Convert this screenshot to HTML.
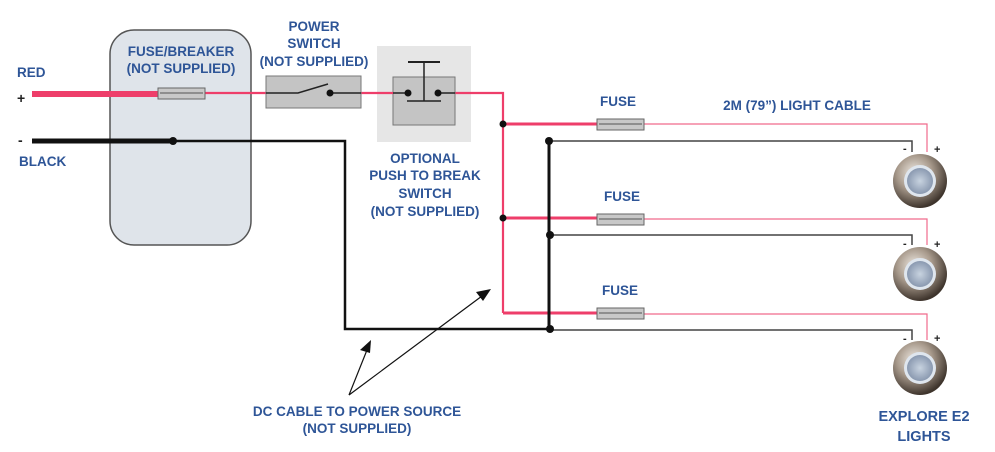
<!DOCTYPE html>
<html><head><meta charset="utf-8"><style>
html,body{margin:0;padding:0;background:#fff;}
svg{display:block}
text{font-family:"Liberation Sans",sans-serif;font-weight:bold;font-size:13.5px;fill:#2e5597;}
</style></head><body>
<svg width="995" height="452" viewBox="0 0 995 452" xmlns="http://www.w3.org/2000/svg">
<defs>
<radialGradient id="ring" cx="40%" cy="35%" r="65%">
<stop offset="0" stop-color="#f0ebe4"/><stop offset="0.5" stop-color="#a89a8c"/><stop offset="1" stop-color="#3e342c"/>
</radialGradient>
<radialGradient id="lens" cx="50%" cy="50%" r="50%">
<stop offset="0" stop-color="#c8d3e0"/><stop offset="1" stop-color="#8a99b0"/>
</radialGradient>
</defs>
<rect x="110" y="30" width="141" height="215" rx="24" fill="#dfe4ea" stroke="#555" stroke-width="1.5"/>
<rect x="377" y="46" width="94" height="96" fill="#e6e6e6"/>
<line x1="32" y1="94" x2="158" y2="94" stroke="#ee3e6a" stroke-width="6"/>
<polyline points="205,93 503,93 503,313" fill="none" stroke="#ee3e6a" stroke-width="2.2"/>
<line x1="503" y1="124" x2="598" y2="124" stroke="#ee3e6a" stroke-width="3"/>
<line x1="503" y1="218" x2="598" y2="218" stroke="#ee3e6a" stroke-width="3"/>
<line x1="503" y1="313" x2="598" y2="313" stroke="#ee3e6a" stroke-width="3"/>
<polyline points="644,124 927,124 927,152" fill="none" stroke="#f06a8c" stroke-width="1.2"/>
<polyline points="644,219 927,219 927,245" fill="none" stroke="#f06a8c" stroke-width="1.2"/>
<polyline points="644,314 927,314 927,340" fill="none" stroke="#f06a8c" stroke-width="1.2"/>
<line x1="32" y1="141" x2="173" y2="141" stroke="#111" stroke-width="5"/>
<polyline points="173,141 345,141 345,329 549,329" fill="none" stroke="#111" stroke-width="2.5"/>
<line x1="549" y1="141" x2="549" y2="329" stroke="#111" stroke-width="3"/>
<polyline points="549,141 912,141 912,152" fill="none" stroke="#444" stroke-width="1.5"/>
<polyline points="549,235 912,235 912,245" fill="none" stroke="#444" stroke-width="1.5"/>
<polyline points="549,330 912,330 912,340" fill="none" stroke="#444" stroke-width="1.5"/>
<circle cx="173" cy="141" r="4" fill="#111"/>
<circle cx="503" cy="124" r="3.5" fill="#111"/>
<circle cx="503" cy="218" r="3.5" fill="#111"/>
<circle cx="549" cy="141" r="4" fill="#111"/>
<circle cx="550" cy="235" r="4" fill="#111"/>
<circle cx="550" cy="329" r="4" fill="#111"/>
<g fill="#c8c8c8" stroke="#666" stroke-width="1">
<rect x="158" y="88" width="47" height="11"/>
<rect x="597" y="119" width="47" height="11"/>
<rect x="597" y="214" width="47" height="11"/>
<rect x="597" y="308" width="47" height="11"/>
</g>
<g stroke="#555" stroke-width="1"><line x1="160" y1="93" x2="203" y2="93"/><line x1="599" y1="124" x2="642" y2="124"/><line x1="599" y1="219" x2="642" y2="219"/><line x1="599" y1="313" x2="642" y2="313"/></g>
<rect x="266" y="76" width="95" height="32" fill="#c4c4c4" stroke="#777"/>
<polyline points="266,93 298,93 328,84" fill="none" stroke="#222" stroke-width="1.5"/>
<line x1="330" y1="93" x2="361" y2="93" stroke="#222" stroke-width="1.5"/>
<circle cx="330" cy="93" r="3.5" fill="#111"/>
<rect x="393" y="77" width="62" height="48" fill="#c4c4c4" stroke="#777"/>
<line x1="377" y1="93" x2="393" y2="93" stroke="#ee3e6a" stroke-width="2"/>
<line x1="393" y1="93" x2="408" y2="93" stroke="#222" stroke-width="1.5"/>
<line x1="438" y1="93" x2="455" y2="93" stroke="#222" stroke-width="1.5"/>
<circle cx="408" cy="93" r="3.5" fill="#111"/><circle cx="438" cy="93" r="3.5" fill="#111"/>
<line x1="408" y1="62" x2="440" y2="62" stroke="#222" stroke-width="2"/>
<line x1="424" y1="62" x2="424" y2="101" stroke="#222" stroke-width="1.5"/>
<line x1="407" y1="101" x2="441" y2="101" stroke="#222" stroke-width="1.5"/>
<g>
<circle cx="920" cy="181" r="27" fill="url(#ring)"/><circle cx="920" cy="181" r="16" fill="#dfe6ee"/><circle cx="920" cy="181" r="13" fill="url(#lens)"/>
<circle cx="920" cy="274" r="27" fill="url(#ring)"/><circle cx="920" cy="274" r="16" fill="#dfe6ee"/><circle cx="920" cy="274" r="13" fill="url(#lens)"/>
<circle cx="920" cy="368" r="27" fill="url(#ring)"/><circle cx="920" cy="368" r="16" fill="#dfe6ee"/><circle cx="920" cy="368" r="13" fill="url(#lens)"/>
</g>
<g>
<text x="903" y="152" style="fill:#222;font-size:11px">-</text><text x="934" y="153" style="fill:#222;font-size:11px">+</text>
<text x="903" y="247" style="fill:#222;font-size:11px">-</text><text x="934" y="248" style="fill:#222;font-size:11px">+</text>
<text x="903" y="342" style="fill:#222;font-size:11px">-</text><text x="934" y="342" style="fill:#222;font-size:11px">+</text>
</g>
<g stroke="#111" stroke-width="1.2"><line x1="349" y1="395" x2="367" y2="350"/><line x1="349" y1="395" x2="482" y2="296"/></g>
<polygon points="371,340 360,350 370,353" fill="#111"/>
<polygon points="491,289 476,292 483,301" fill="#111"/>
<text x="17" y="77">RED</text>
<text x="17" y="103" style="fill:#222;font-size:14px">+</text>
<text x="18" y="145" style="fill:#222;font-size:14px">-</text>
<text x="19" y="166">BLACK</text>
<text x="181" y="56" text-anchor="middle">FUSE/BREAKER</text>
<text x="181" y="73" text-anchor="middle">(NOT SUPPLIED)</text>
<text x="314" y="31" text-anchor="middle">POWER</text>
<text x="314" y="48" text-anchor="middle">SWITCH</text>
<text x="314" y="66" text-anchor="middle">(NOT SUPPLIED)</text>
<text x="425" y="163" text-anchor="middle">OPTIONAL</text>
<text x="425" y="180" text-anchor="middle">PUSH TO BREAK</text>
<text x="425" y="198" text-anchor="middle">SWITCH</text>
<text x="425" y="216" text-anchor="middle">(NOT SUPPLIED)</text>
<text x="618" y="106" text-anchor="middle">FUSE</text>
<text x="622" y="201" text-anchor="middle">FUSE</text>
<text x="620" y="295" text-anchor="middle">FUSE</text>
<text x="797" y="110" text-anchor="middle">2M (79”) LIGHT CABLE</text>
<text x="357" y="416" text-anchor="middle">DC CABLE TO POWER SOURCE</text>
<text x="357" y="433" text-anchor="middle">(NOT SUPPLIED)</text>
<text x="924" y="421" text-anchor="middle" style="font-size:14.5px">EXPLORE E2</text>
<text x="924" y="441" text-anchor="middle" style="font-size:14.5px">LIGHTS</text>
</svg>
</body></html>
